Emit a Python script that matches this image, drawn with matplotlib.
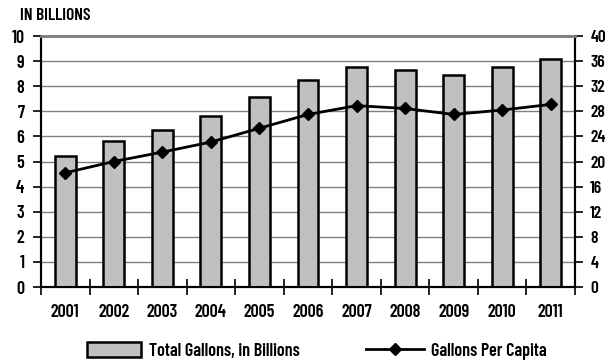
import matplotlib
matplotlib.use("Agg")
import matplotlib.pyplot as plt
import numpy as np

years = ["2001", "2002", "2003", "2004", "2005", "2006",
         "2007", "2008", "2009", "2010", "2011"]
total_gallons_billions = [5.2, 5.8, 6.25, 6.8, 7.55, 8.25, 8.75, 8.65, 8.45, 8.75, 9.1]
gallons_per_capita = [18.2, 20.0, 21.5, 23.1, 25.3, 27.5, 28.9, 28.45, 27.5, 28.2, 29.1]

plt.rcParams["font.family"] = ["Barlow Condensed", "DejaVu Sans"]
plt.rcParams["font.weight"] = "semibold"

W, H = 608, 362
fig = plt.figure(figsize=(W / 100, H / 100), dpi=100)
ax = fig.add_axes([41 / W, 1 - 287 / H, 534 / W, 251 / H])
ax2 = ax.twinx()

x = np.arange(len(years))
bars = ax.bar(x, total_gallons_billions, width=0.43, color="#c0c0c0",
              edgecolor="black", linewidth=1.8, zorder=3,
              label="Total Gallons, in Billions")
line, = ax2.plot(x, gallons_per_capita, color="black", linewidth=2,
                 marker="D", markersize=6.5, zorder=4, label="Gallons Per Capita")

ax.set_xlim(-0.5, len(years) - 0.5)
ax.set_ylim(0, 10)
ax2.set_ylim(0, 40)
ax.set_yticks(range(0, 11))
ax2.set_yticks(range(0, 41, 4))

ax.yaxis.grid(True, color="#808080", linewidth=1)
ax.set_axisbelow(True)

ax.set_xticks(x)
ax.set_xticklabels(years, fontsize=13)
ax.tick_params(axis="x", which="major", length=0, pad=12)
ax.set_xticks(np.arange(-0.5, len(years)), minor=True)
ax.tick_params(axis="x", which="minor", direction="inout", length=12, width=1.2)

ax.tick_params(axis="y", length=6, width=1.2, labelsize=13, pad=6)
ax2.tick_params(axis="y", length=6, width=1.2, labelsize=12.5, pad=5)

for a in (ax, ax2):
    a.spines["top"].set_color("#808080")
    a.spines["top"].set_linewidth(2)
    for s in ("left", "right", "bottom"):
        a.spines[s].set_linewidth(1.5)
        a.spines[s].set_color("black")

fig.text(20 / W, 1 - 16 / H, "IN BILLIONS", fontsize=12.5, va="center", ha="left")

leg_y = 1 - 351 / H
fig.legend([bars], ["Total Gallons, in Billions"], loc="center left",
           bbox_to_anchor=(87 / W, leg_y), frameon=False, fontsize=13,
           handlelength=3.0, handleheight=0.9, handletextpad=0.45,
           borderpad=0, borderaxespad=0)
fig.legend([line], ["Gallons Per Capita"], loc="center left",
           bbox_to_anchor=(366 / W, leg_y), frameon=False, fontsize=13,
           handlelength=3.2, handletextpad=0.4, borderpad=0, borderaxespad=0)

fig.savefig("out.png", dpi=100)
